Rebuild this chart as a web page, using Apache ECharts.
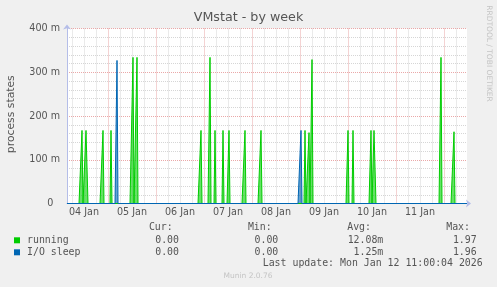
<!DOCTYPE html>
<html>
<head>
<meta charset="utf-8">
<script src="https://cdn.jsdelivr.net/npm/echarts@6/dist/echarts.min.js"></script>
<style>
html,body{margin:0;padding:0;background:#f0f0f0;}
#c{width:497px;height:287px;}
</style>
</head>
<body>
<div id="c"></div>
<script>
// ---------------- data ----------------
const chartTitle = 'VMstat - by week';
const yAxisName = 'process states';
const yTickLabels = ['0', '100 m', '200 m', '300 m', '400 m'];
const xTickSlots = ['01-04 12:00', '01-05 12:00', '01-06 12:00', '01-07 12:00',
                    '01-08 12:00', '01-09 12:00', '01-10 12:00', '01-11 12:00'];
const xTickLabels = ['04 Jan', '05 Jan', '06 Jan', '07 Jan', '08 Jan', '09 Jan', '10 Jan', '11 Jan'];
const seriesNames = ['running', 'I/O sleep'];
const seriesColors = ['#00cc00', '#0066b3'];

// 30-minute samples, Jan 4 03:30 .. Jan 12 11:30 (all zero except these spikes)
const runningTimes = ['01-04 11:00', '01-04 13:00', '01-04 13:30', '01-04 21:30',
  '01-05 01:30', '01-05 12:30', '01-05 14:30', '01-06 22:30',
  '01-07 03:00', '01-07 05:30', '01-07 09:30', '01-07 12:30', '01-07 20:30',
  '01-08 04:30', '01-09 02:30', '01-09 04:30', '01-09 06:00',
  '01-10 00:00', '01-10 02:30', '01-10 11:30', '01-10 13:00', '01-10 13:30',
  '01-11 22:30', '01-12 05:00'];
const runningValues = [0.167, 0.167, 0.170, 0.167,
  0.167, 0.334, 0.334, 0.167,
  0.334, 0.167, 0.167, 0.167, 0.167,
  0.167, 0.167, 0.162, 0.329,
  0.167, 0.167, 0.167, 0.167, 0.167,
  0.334, 0.164];
const ioSleepTimes = ['01-05 04:30', '01-09 00:30'];
const ioSleepValues = [0.327, 0.167];

const statHeaders = ['Cur:', 'Min:', 'Avg:', 'Max:'];
const runningStats = ['0.00', '0.00', '12.08m', '1.97'];
const ioSleepStats = ['0.00', '0.00', '1.25m', '1.96'];
const lastUpdate = 'Last update: Mon Jan 12 11:00:04 2026';
const footer = 'Munin 2.0.76';
const sideText = 'RRDTOOL / TOBI OETIKER';

// ---------------- build ----------------
const pad = n => (n < 10 ? '0' : '') + n;
const slots = [];
const t0 = Date.UTC(2026, 0, 4, 3, 30);
for (let i = 0; i < 401; i++) {
  const d = new Date(t0 + i * 1800000);
  slots.push(pad(d.getUTCMonth() + 1) + '-' + pad(d.getUTCDate()) + ' ' + pad(d.getUTCHours()) + ':' + pad(d.getUTCMinutes()));
}
function buildSeries(times, values) {
  const arr = slots.map(() => 0);
  times.forEach((t, k) => { const idx = slots.indexOf(t); if (idx >= 0) arr[idx] = values[k]; });
  return arr;
}
const runningData = buildSeries(runningTimes, runningValues);
const ioSleepData = buildSeries(ioSleepTimes, ioSleepValues);

const TXT = '#555555';
const SANS = 'DejaVu Sans';
const MONO = 'DejaVu Sans Mono';
const GRID_MINOR = '#d6d6d6';
const GRID_MAJOR = '#eaa8a8';
const AXIS = '#b4bde8';

const baseX = {type: 'category', data: slots, boundaryGap: false, position: 'bottom', gridIndex: 0,
  axisTick: {show: false}, axisLabel: {show: false}, axisLine: {show: false}};

const monoText = (text, x, y, align) => ({
  type: 'text', x: x, y: y, silent: true,
  style: {text: text, fill: TXT, fontFamily: MONO, fontSize: 9.9, align: align, verticalAlign: 'middle'}
});
const headerRight = [172.7, 271.7, 371, 470];
const valueRight = [179, 278.3, 383.3, 476.7];
const graphics = [];
statHeaders.forEach((h, i) => graphics.push(monoText(h, headerRight[i], 227.5, 'right')));
runningStats.forEach((v, i) => graphics.push(monoText(v, valueRight[i], 240.3, 'right')));
ioSleepStats.forEach((v, i) => graphics.push(monoText(v, valueRight[i], 252.3, 'right')));
graphics.push(monoText(lastUpdate, 482.7, 263.8, 'right'));
graphics.push({type: 'text', x: 248, y: 276, silent: true,
  style: {text: footer, fill: '#c4c4c4', fontFamily: SANS, fontSize: 7.5, align: 'center', verticalAlign: 'middle'}});
graphics.push({type: 'text', x: 488.5, y: 53.5, rotation: -Math.PI / 2, silent: true,
  style: {text: sideText, fill: '#c4c4c4', fontFamily: SANS, fontSize: 7.5, align: 'center', verticalAlign: 'middle'}});
graphics.push({type: 'text', x: 11, y: 114.2, rotation: Math.PI / 2, silent: true,
  style: {text: yAxisName, fill: TXT, fontFamily: SANS, fontSize: 10.8, align: 'center', verticalAlign: 'middle'}});

const option = {
  animation: false,
  backgroundColor: '#f0f0f0',
  title: {text: chartTitle, left: 'center', top: 11, padding: 0,
    textStyle: {fontFamily: SANS, fontSize: 12.7, fontWeight: 'normal', color: TXT}},
  legend: {orient: 'vertical', left: 14, top: 234.3, padding: 0, itemWidth: 6, itemHeight: 6, itemGap: 0,
    icon: 'rect', selectedMode: false, data: seriesNames,
    textStyle: {fontFamily: MONO, fontSize: 9.9, color: TXT, lineHeight: 12, padding: [0, 0, 0, 2]}},
  grid: {left: 67, top: 28.5, width: 400, height: 175, show: true, backgroundColor: '#ffffff', borderWidth: 0},
  xAxis: [
    Object.assign({}, baseX, {splitLine: {show: true,
      interval: (i, v) => ['06:00', '12:00', '18:00'].indexOf(v.slice(6)) >= 0,
      lineStyle: {color: GRID_MINOR, width: 1, type: [1, 1]}}}),
    Object.assign({}, baseX, {splitLine: {show: true,
      interval: (i, v) => v.slice(6) === '00:00',
      lineStyle: {color: GRID_MAJOR, width: 1, type: [1, 1]}}}),
    Object.assign({}, baseX, {z: 3,
      axisLine: {show: true, lineStyle: {color: AXIS, width: 1}, symbol: ['none', 'arrow'], symbolSize: [6, 5], symbolOffset: [0, 4]},
      axisLabel: {show: true, interval: (i, v) => xTickSlots.indexOf(v) >= 0,
        formatter: v => xTickLabels[xTickSlots.indexOf(v)],
        color: TXT, fontFamily: SANS, fontSize: 9.6, margin: 4},
      splitLine: {show: false}})
  ],
  yAxis: [
    {type: 'value', min: 0, max: 0.4, interval: 0.1, position: 'left',
      axisLine: {show: false}, axisTick: {show: false},
      axisLabel: {color: TXT, fontFamily: SANS, fontSize: 9.6, margin: 7,
        formatter: v => { const k = Math.round(v * 10); return k === 0 ? '{z|' + yTickLabels[0] + '}' : yTickLabels[k]; },
        rich: {z: {color: TXT, fontFamily: SANS, fontSize: 9.6, padding: [0, 6.7, 0, 0]}}},
      splitLine: {show: true, lineStyle: {color: GRID_MAJOR, width: 1, type: [1, 1]}},
      minorTick: {show: false, splitNumber: 5},
      minorSplitLine: {show: true, lineStyle: {color: GRID_MINOR, width: 1, type: [1, 1]}}},
    {type: 'value', min: 0, max: 0.4, interval: 0.1, position: 'left', z: 3,
      axisLine: {show: true, lineStyle: {color: AXIS, width: 1}, symbol: ['none', 'arrow'], symbolSize: [6, 5], symbolOffset: [0, 4]},
      axisTick: {show: false}, axisLabel: {show: false}, splitLine: {show: false}}
  ],
  series: [
    {name: seriesNames[0], type: 'line', xAxisIndex: 0, yAxisIndex: 0, data: runningData, symbol: 'none',
      color: seriesColors[0], lineStyle: {width: 1, color: seriesColors[0]}, areaStyle: {color: seriesColors[0], opacity: 0.6}},
    {name: seriesNames[1], type: 'line', xAxisIndex: 0, yAxisIndex: 0, data: ioSleepData, symbol: 'none',
      color: seriesColors[1], lineStyle: {width: 1, color: seriesColors[1]}, areaStyle: {color: seriesColors[1], opacity: 0.6}}
  ],
  graphic: graphics
};
const chart = echarts.init(document.getElementById('c'));
chart.setOption(option);
</script>
</body>
</html>
